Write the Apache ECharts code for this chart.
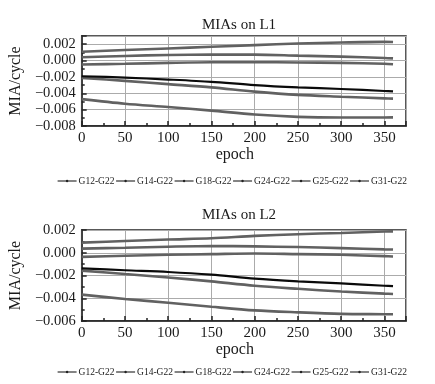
<!DOCTYPE html>
<html>
<head>
<meta charset="utf-8">
<script src="https://cdn.jsdelivr.net/npm/echarts@6/dist/echarts.min.js"></script>
<style>
html,body{margin:0;padding:0;background:#fff;}
#c{width:435px;height:384px;}
</style>
</head>
<body>
<div id="c"></div>
<script>
var epochs = [0, 50, 100, 150, 200, 250, 300, 350, 360];
var seriesNames = ['G12-G22', 'G14-G22', 'G18-G22', 'G24-G22', 'G25-G22', 'G31-G22'];

// L1 values (cycles)
var L1_G12 = [-0.00192, -0.00208, -0.00232, -0.00260, -0.00300, -0.00328, -0.00348, -0.00372, -0.00378];
var L1_G14 = [-0.00212, -0.00248, -0.00288, -0.00328, -0.00380, -0.00420, -0.00442, -0.00462, -0.00466];
var L1_G18 = [-0.00472, -0.00528, -0.00568, -0.00612, -0.00660, -0.00688, -0.00696, -0.00696, -0.00694];
var L1_G24 = [0.00108, 0.00128, 0.00148, 0.00168, 0.00188, 0.00208, 0.00220, 0.00228, 0.00226];
var L1_G25 = [0.00040, 0.00056, 0.00068, 0.00072, 0.00072, 0.00060, 0.00048, 0.00032, 0.00026];
var L1_G31 = [-0.00048, -0.00040, -0.00028, -0.00020, -0.00020, -0.00024, -0.00028, -0.00040, -0.00046];

// L2 values (cycles)
var L2_G12 = [-0.00137, -0.00154, -0.00169, -0.00193, -0.00228, -0.00252, -0.00270, -0.00290, -0.00294];
var L2_G14 = [-0.00157, -0.00187, -0.00217, -0.00252, -0.00290, -0.00317, -0.00341, -0.00359, -0.00362];
var L2_G18 = [-0.00368, -0.00406, -0.00440, -0.00475, -0.00507, -0.00524, -0.00537, -0.00540, -0.00541];
var L2_G24 = [0.00089, 0.00103, 0.00116, 0.00127, 0.00148, 0.00163, 0.00174, 0.00187, 0.00188];
var L2_G25 = [0.00036, 0.00044, 0.00053, 0.00059, 0.00056, 0.00050, 0.00041, 0.00030, 0.00028];
var L2_G31 = [-0.00036, -0.00027, -0.00018, -0.00012, -0.00006, -0.00012, -0.00018, -0.00030, -0.00033];

var L1 = [L1_G12, L1_G14, L1_G18, L1_G24, L1_G25, L1_G31];
var L2 = [L2_G12, L2_G14, L2_G18, L2_G24, L2_G25, L2_G31];

var FONT = '"Liberation Serif", "Times New Roman", serif';
var TXT = '#1a1a1a';

function pairs(vals) {
  return epochs.map(function (e, i) { return [e, vals[i]]; });
}
function fmtY(v) {
  var s = Math.abs(v).toFixed(3);
  if (s === '0.000') return '0.000';
  return (v < 0 ? '\u2212' : '') + s;
}

function xAxisFor(gi) {
  return {
    type: 'value', gridIndex: gi, min: 0, max: 375, interval: 50,
    name: 'epoch', nameLocation: 'middle', nameGap: 20,
    nameTextStyle: { fontFamily: FONT, fontSize: 16, color: TXT, padding: [0, 18, 0, 0] },
    axisLine: { show: true, onZero: false, lineStyle: { color: '#222', width: 1.5 } },
    axisTick: { show: true, inside: true, length: 5, lineStyle: { color: '#222', width: 1.5 } },
    minorTick: { show: true, splitNumber: 2, length: 3, lineStyle: { color: '#222', width: 1.5 } },
    axisLabel: { fontFamily: FONT, fontSize: 15, color: TXT, margin: 5, showMaxLabel: false },
    splitLine: { show: true, lineStyle: { color: '#ababab', width: 1 } }
  };
}
function yAxisFor(gi, min, max) {
  return {
    type: 'value', gridIndex: gi, min: min, max: max, interval: 0.002,
    name: 'MIA/cycle', nameLocation: 'middle', nameGap: 52, nameRotate: 90,
    nameTextStyle: { fontFamily: FONT, fontSize: 16, color: TXT },
    axisLine: { show: true, onZero: false, lineStyle: { color: '#222', width: 1.5 } },
    axisTick: { show: true, inside: true, length: 5, lineStyle: { color: '#222', width: 1.5 } },
    minorTick: { show: true, splitNumber: 2, length: 3, lineStyle: { color: '#222', width: 1.5 } },
    axisLabel: { fontFamily: FONT, fontSize: 14.5, color: TXT, margin: 6, formatter: fmtY,
                 showMaxLabel: max === 0.002 },
    splitLine: { show: true, lineStyle: { color: '#ababab', width: 1 } }
  };
}

var series = [];
[L1, L2].forEach(function (set, gi) {
  set.forEach(function (vals, i) {
    var black = i === 0;
    series.push({
      type: 'line', name: seriesNames[i], xAxisIndex: gi, yAxisIndex: gi,
      data: pairs(vals), smooth: 0.3,
      symbol: 'circle', symbolSize: 3, showSymbol: false,
      z: black ? 5 : 3,
      lineStyle: { color: black ? '#0a0a0a' : '#616161', width: black ? 2.2 : 2.6 },
      itemStyle: { color: black ? '#0a0a0a' : '#555' }
    });
  });
});

function legendFor(top) {
  return {
    data: seriesNames, left: 57, top: top, orient: 'horizontal', padding: 0,
    itemWidth: 19, itemHeight: 3, itemGap: 1,
    textStyle: { fontFamily: FONT, fontSize: 9.5, color: TXT, padding: [0, 0, 0, -3] },
    lineStyle: { width: 1.2, color: '#333' },
    itemStyle: { color: '#222' }
  };
}

var chart = echarts.init(document.getElementById('c'), null, { renderer: 'canvas' });
chart.setOption({
  backgroundColor: '#ffffff',
  animation: false,
  title: [
    { text: 'MIAs on L1', left: 234, top: 13, textAlign: 'center',
      textStyle: { fontFamily: FONT, fontSize: 15, fontWeight: 'normal', color: TXT } },
    { text: 'MIAs on L2', left: 234, top: 203, textAlign: 'center',
      textStyle: { fontFamily: FONT, fontSize: 15, fontWeight: 'normal', color: TXT } }
  ],
  legend: [legendFor(176), legendFor(367)],
  grid: [
    { left: 79, right: 29, top: 36, height: 90, show: true, borderColor: '#222', borderWidth: 1.5, backgroundColor: 'transparent' },
    { left: 79, right: 29, top: 230, height: 91, show: true, borderColor: '#222', borderWidth: 1.5, backgroundColor: 'transparent' }
  ],
  xAxis: [xAxisFor(0), xAxisFor(1)],
  yAxis: [yAxisFor(0, -0.008, 0.003), yAxisFor(1, -0.006, 0.002)],
  series: series
});
</script>
</body>
</html>
